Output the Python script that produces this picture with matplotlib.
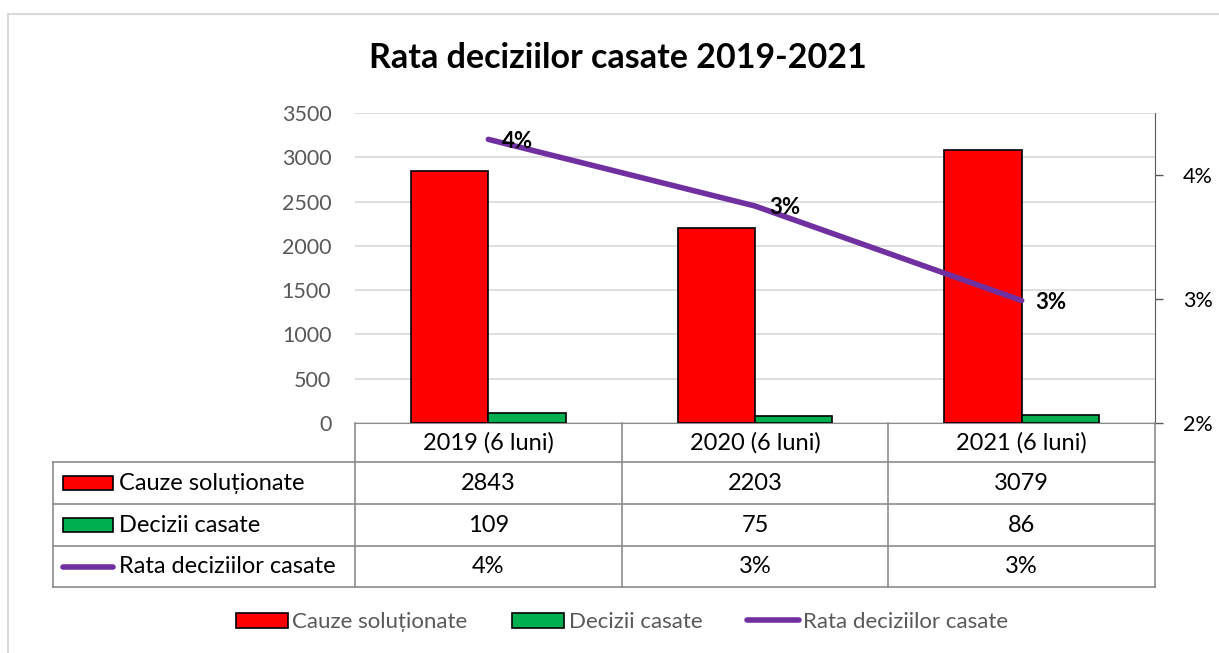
import numpy as np
import matplotlib.pyplot as plt
from matplotlib.lines import Line2D
from matplotlib.patches import Rectangle
from matplotlib.ticker import FuncFormatter

# date
categorii = ['2019 (6 luni)', '2020 (6 luni)', '2021 (6 luni)']
cauze_solutionate = [2843, 2203, 3079]
decizii_casate = [109, 75, 86]
rata = [0.0383, 0.0340, 0.0279]
rata_etichete = ['4%', '3%', '3%']

serii = ['Cauze soluționate', 'Decizii casate', 'Rata deciziilor casate']
culori = ['#ff0000', '#00b050', '#7030a0']
gri = '#595959'

plt.rcParams['font.family'] = ['Lato', 'DejaVu Sans']
plt.rcParams['font.size'] = 12

W, H = 1219, 653
fig = plt.figure(figsize=(W / 100, H / 100), dpi=100)

# zona graficului in pixeli
x0, x1, y0, y1 = 355, 1155, 113, 423
ax = fig.add_axes([x0 / W, 1 - y1 / H, (x1 - x0) / W, (y1 - y0) / H])

x = np.arange(len(categorii))
w = 0.29
ax.bar(x - w / 2, cauze_solutionate, w, color=culori[0], edgecolor='black', linewidth=1.2, zorder=3)
ax.bar(x + w / 2, decizii_casate, w, color=culori[1], edgecolor='black', linewidth=1.2, zorder=3)
ax.set_xlim(-0.5, len(categorii) - 0.5)
ax.set_ylim(0, 3500)
ax.set_yticks(np.arange(0, 3501, 500))
ax.yaxis.grid(True, color='#d9d9d9', linewidth=1.2)
ax.set_axisbelow(True)
ax.tick_params(axis='y', length=0, colors=gri, labelsize=15.5, pad=17)
ax.tick_params(axis='x', length=0, labelbottom=False)
for s in ['top', 'left', 'right']:
    ax.spines[s].set_visible(False)
ax.spines['bottom'].set_color('#8c8c8c')

ax2 = ax.twinx()
ax2.plot(x, rata, color=culori[2], linewidth=4, solid_capstyle='round', zorder=4)
ax2.set_ylim(0.02, 0.04)
ax2.set_yticks([0.02, 0.028, 0.036])
ax2.yaxis.set_major_formatter(FuncFormatter(lambda v, p: f'{v:.0%}'))
ax2.tick_params(axis='y', colors=gri, labelsize=15.5, length=6, width=1, pad=14, labelcolor='black')
for s in ['top', 'left', 'bottom']:
    ax2.spines[s].set_visible(False)
ax2.spines['right'].set_color(gri)
for xi, yi, et in zip(x, rata, rata_etichete):
    ax2.annotate(et, (xi, yi), xytext=(14, -2), textcoords='offset pixels',
                 ha='left', va='center', fontsize=16, fontweight='bold', zorder=5)

fig.text(618 / W, 1 - 58 / H, 'Rata deciziilor casate 2019-2021', ha='center', va='center',
         fontsize=24.5, fontweight='bold')

# tabelul de date
linie = dict(color='#8c8c8c', linewidth=1.2)
tx0 = 53
randuri = [423, 462, 504, 546, 587]
coloane = [x0 + (x1 - x0) * i / len(categorii) for i in range(len(categorii) + 1)]

def fx(p):
    return p / W

def fy(p):
    return 1 - p / H

for r in randuri[1:]:
    fig.add_artist(Line2D([fx(tx0), fx(x1)], [fy(r), fy(r)], **linie))
for c in coloane:
    fig.add_artist(Line2D([fx(c), fx(c)], [fy(randuri[0]), fy(randuri[-1])], **linie))
fig.add_artist(Line2D([fx(tx0), fx(tx0)], [fy(randuri[1]), fy(randuri[-1])], **linie))

for i, cat in enumerate(categorii):
    cx = (coloane[i] + coloane[i + 1]) / 2
    fig.text(fx(cx), fy((randuri[0] + randuri[1]) / 2), cat, ha='center', va='center', fontsize=17)

valori = [cauze_solutionate, decizii_casate, rata_etichete]
for j, (nume, vals) in enumerate(zip(serii, valori)):
    cy = (randuri[j + 1] + randuri[j + 2]) / 2
    if j < 2:
        fig.add_artist(Rectangle((fx(63), fy(cy + 7)), fx(50), 14 / H, facecolor=culori[j],
                                 edgecolor='black', linewidth=1.2))
    else:
        fig.add_artist(Line2D([fx(63), fx(113)], [fy(cy), fy(cy)], color=culori[j],
                              linewidth=4, solid_capstyle='round'))
    fig.text(fx(119), fy(cy), nume, ha='left', va='center', fontsize=17)
    for i, v in enumerate(vals):
        cx = (coloane[i] + coloane[i + 1]) / 2
        fig.text(fx(cx), fy(cy), str(v), ha='center', va='center', fontsize=17)

# legenda
handles = [Rectangle((0, 0), 1, 1, facecolor=culori[0], edgecolor='black', linewidth=1.2),
           Rectangle((0, 0), 1, 1, facecolor=culori[1], edgecolor='black', linewidth=1.2),
           Line2D([], [], color=culori[2], linewidth=4, solid_capstyle='round')]
leg = fig.legend(handles, serii, loc='center', bbox_to_anchor=(622 / W, fy(622)), ncol=3,
                 frameon=False, fontsize=16, handlelength=2.35, handleheight=0.65,
                 handletextpad=0.2, columnspacing=2.0, labelcolor=gri)

# chenarul figurii
fig.add_artist(Line2D([fx(8), fx(8)], [fy(14), 0], color='#d9d9d9', linewidth=1.5))
fig.add_artist(Line2D([fx(8), 1], [fy(14), fy(14)], color='#d9d9d9', linewidth=1.5))

fig.savefig('out.png', dpi=100)
